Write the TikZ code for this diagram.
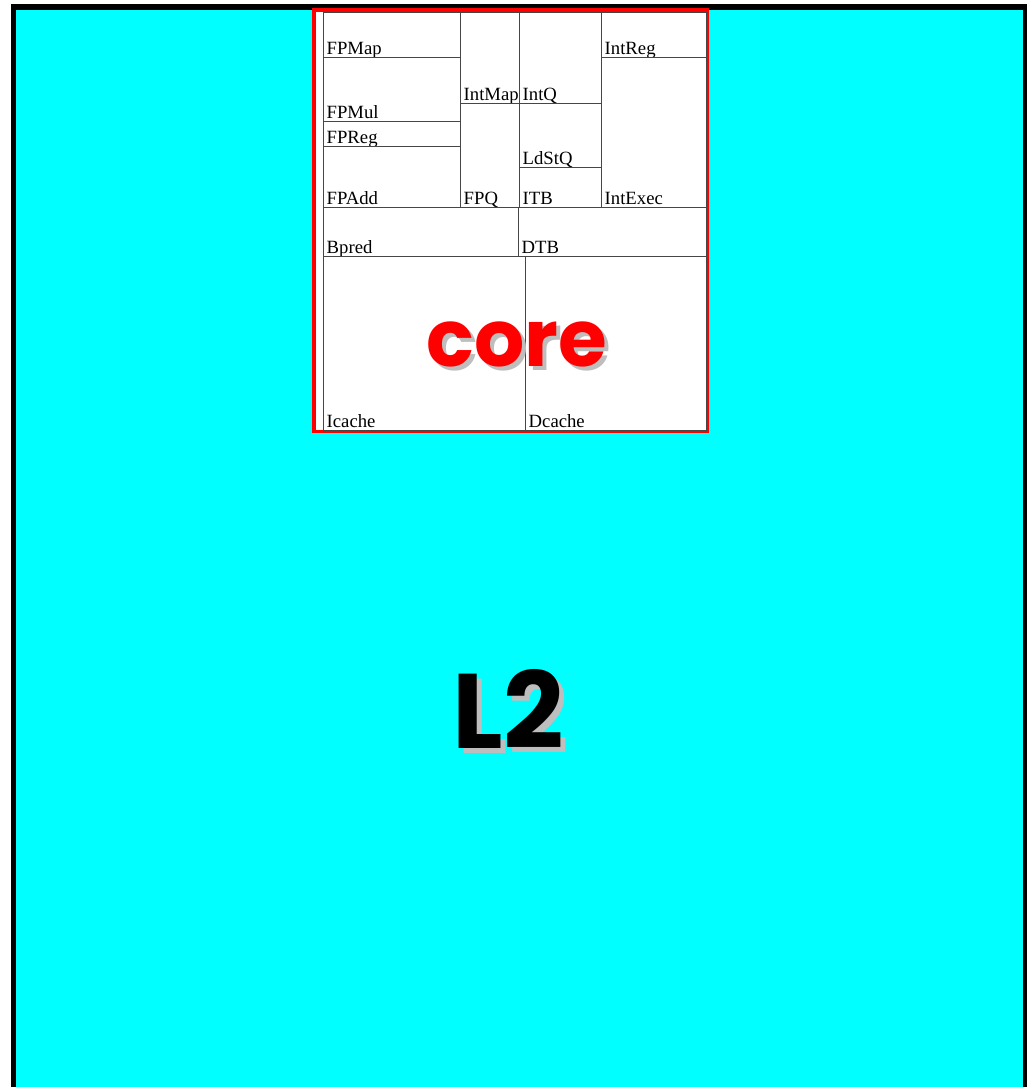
\documentclass[tikz,border=0pt]{standalone}
\usepackage{fontspec}
\setmainfont{Liberation Serif}
\newfontfamily\handfont{Poppins}
\definecolor{l2color}{RGB}{0,255,255}
\definecolor{corered}{RGB}{255,0,0}
\definecolor{shadowgray}{RGB}{190,190,190}
\definecolor{unitline}{RGB}{70,70,70}
\newcommand{\fpblock}[6]{%
  \draw[draw=unitline, line width=0.9pt]
    (#1,#2) rectangle (#1+#3, #2+#4);
  \node[anchor=base west, inner sep=0pt, font=\fontsize{18.7}{20}\selectfont]
    (#5) at (#1+3.5, #2+#4-2.5) {#6};
}
\begin{document}
\begin{tikzpicture}[x=1pt, y=-1pt]
    \useasboundingbox (0,0) rectangle (1026,1087);
    % L2
    \filldraw[fill=l2color, draw=black, line width=5.5pt] (13.5,7) rectangle (1026,1100);
    % Core outline
    \filldraw[fill=white, draw=corered, line width=3.5pt] (314,9.8) rectangle (707.5,431.5);
    % Units (x, y, width, height, name, label)
    \fpblock{323}{12.5}{137}{44.5}{fpmap}{FPMap}
    \fpblock{323}{57}{137}{64}{fpmul}{FPMul}
    \fpblock{323}{121}{137}{25}{fpreg}{FPReg}
    \fpblock{323}{146}{137}{61}{fpadd}{FPAdd}
    \fpblock{460}{12.5}{59}{90.5}{intmap}{IntMap}
    \fpblock{460}{103}{59}{104}{fpq}{FPQ}
    \fpblock{519}{12.5}{82}{90.5}{intq}{IntQ}
    \fpblock{519}{103}{82}{64}{ldstq}{LdStQ}
    \fpblock{519}{167}{82}{40}{itb}{ITB}
    \fpblock{601}{12.5}{105}{44.5}{intreg}{IntReg}
    \fpblock{601}{57}{105}{150}{intexec}{IntExec}
    \fpblock{323}{207}{195}{49}{bpred}{Bpred}
    \fpblock{518}{207}{188}{49}{dtb}{DTB}
    \fpblock{323}{256}{202}{174}{icache}{Icache}
    \fpblock{525}{256}{181}{174}{dcache}{Dcache}
    % Big labels with shadow
    \node[anchor=base, text=shadowgray, font=\handfont\bfseries\fontsize{79}{86}\selectfont] (coreshadow) at (521,370) {core};
    \node[anchor=base, text=corered, font=\handfont\bfseries\fontsize{79}{86}\selectfont] (core) at (517,366) {core};
    \node[anchor=base, text=shadowgray, font=\handfont\bfseries\fontsize{106}{116}\selectfont] (l2shadow) at (513,753) {L2};
    \node[anchor=base, text=black, font=\handfont\bfseries\fontsize{106}{116}\selectfont] (l2) at (508.5,748) {L2};
\end{tikzpicture}
\end{document}
